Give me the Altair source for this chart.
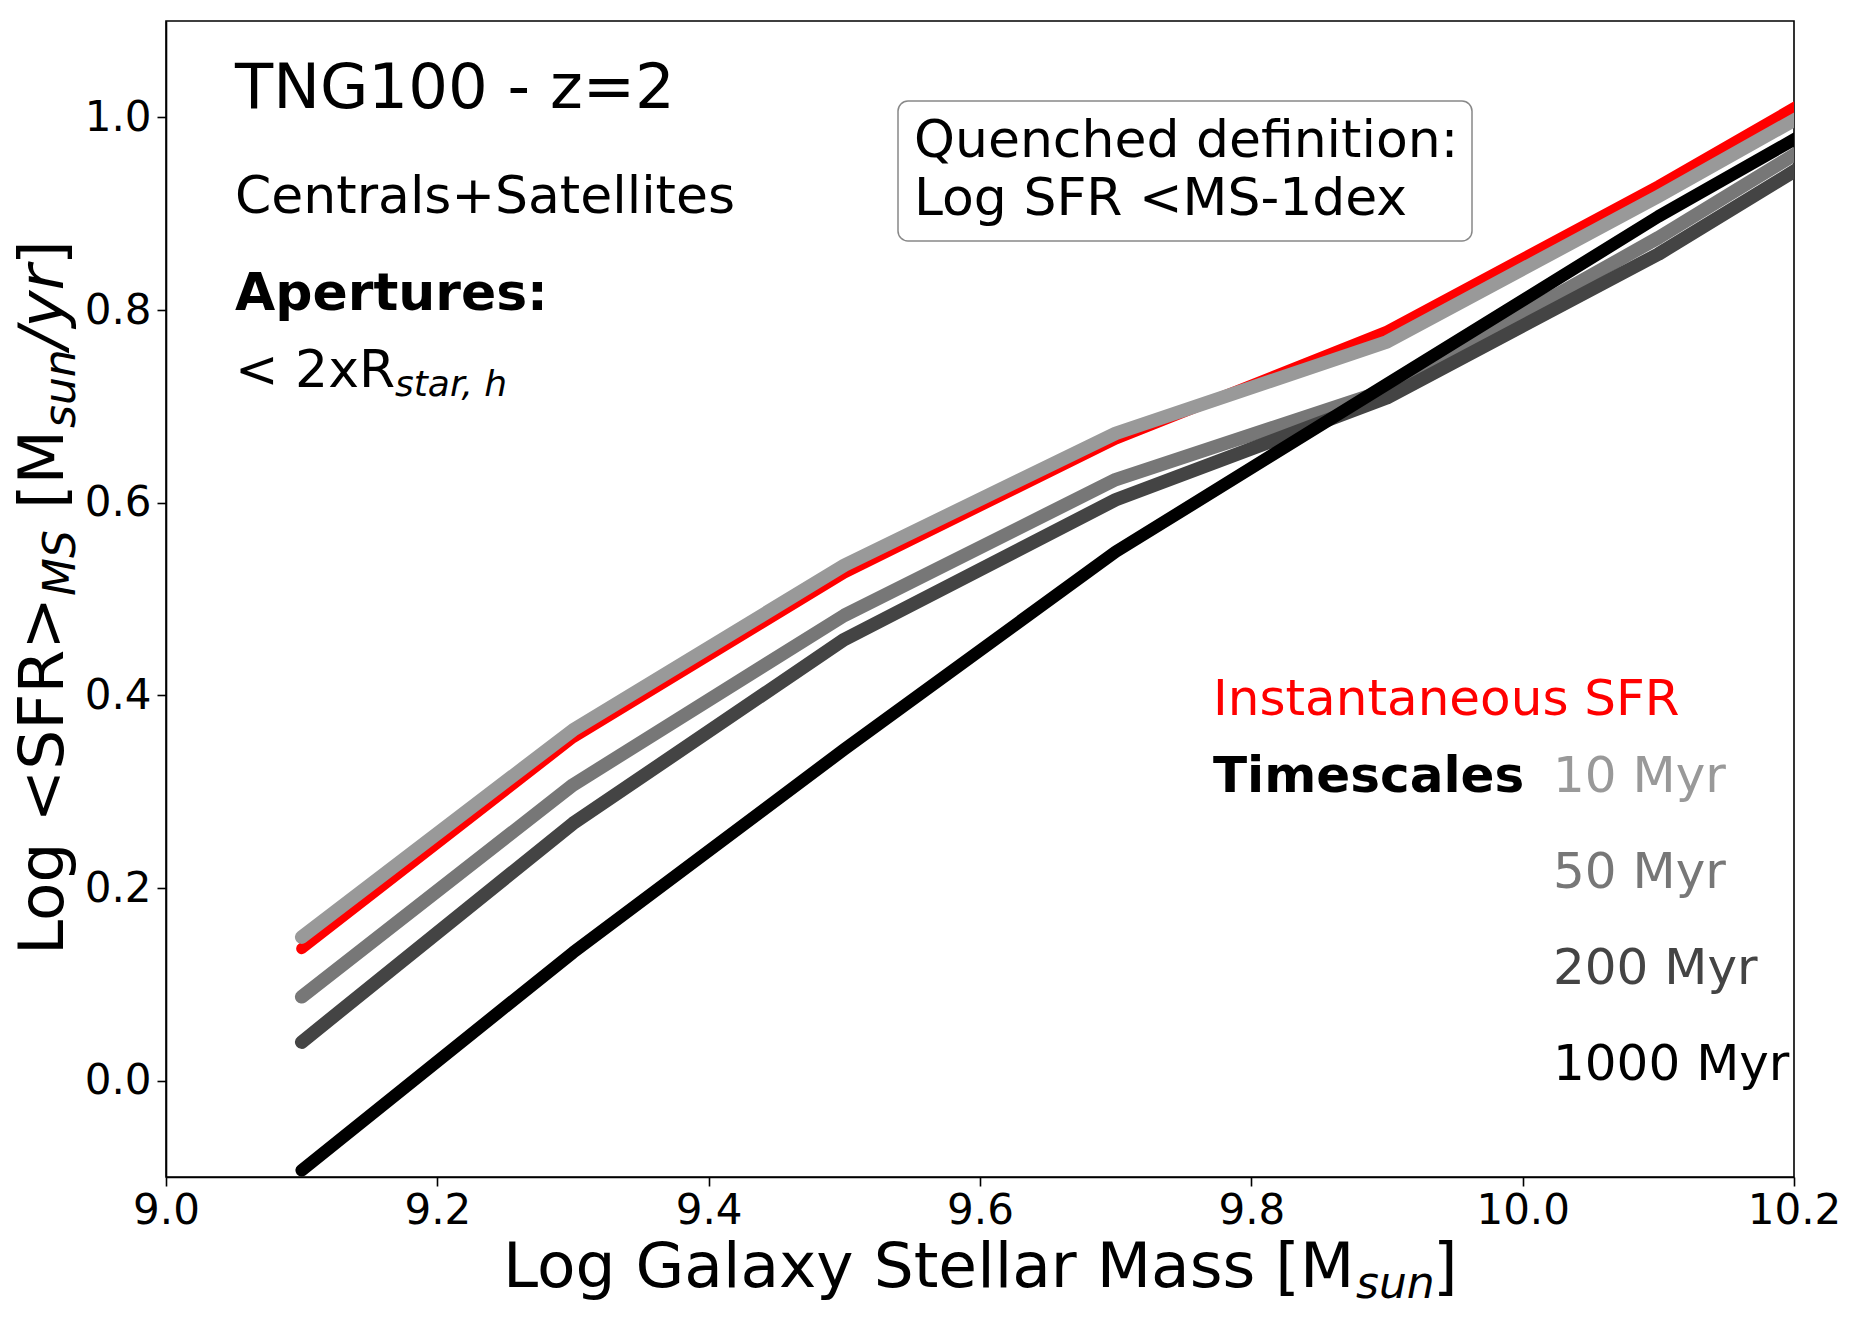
import altair as alt
import pandas as pd

# Bin centres in log stellar mass (the last bin lies past the right edge and is clipped)
mass = [9.1, 9.3, 9.5, 9.7, 9.9, 10.1, 10.3]

# Mean log SFR on the main sequence for each SFR estimator
sfr_inst = [0.137, 0.356, 0.527, 0.666, 0.778, 0.929, 1.091]
sfr_10myr = [0.149, 0.364, 0.535, 0.672, 0.767, 0.918, 1.076]
sfr_50myr = [0.087, 0.307, 0.483, 0.624, 0.717, 0.875, 1.047]
sfr_200myr = [0.040, 0.267, 0.458, 0.603, 0.709, 0.858, 1.030]
sfr_1000myr = [-0.093, 0.133, 0.344, 0.549, 0.723, 0.897, 1.057]

series_labels = ["Instantaneous SFR", "10 Myr", "50 Myr", "200 Myr", "1000 Myr"]
series_values = [sfr_inst, sfr_10myr, sfr_50myr, sfr_200myr, sfr_1000myr]
series_colors = ["#ff0000", "#999999", "#777777", "#444444", "#000000"]
series_widths = [11, 13.5, 13.5, 13.5, 12.5]

x_ticks = [9.0, 9.2, 9.4, 9.6, 9.8, 10.0, 10.2]
y_ticks = [0.0, 0.2, 0.4, 0.6, 0.8, 1.0]

W, H = 1628, 1156
FONT = "DejaVu Sans"

x_scale = alt.Scale(domain=[9.0, 10.2], nice=False, zero=False)
y_scale = alt.Scale(domain=[-0.1, 1.1], nice=False, zero=False)

axis_style = dict(
    title=None, format=".1f", grid=False, labelFontSize=42, labelFont=FONT,
    labelColor="black", tickColor="black", tickSize=9, tickWidth=1.6,
    domainColor="black", domainWidth=1.6, labelFlush=False,
    labelOverlap=False, labelBound=False,
)
x_axis = alt.Axis(values=x_ticks, labelPadding=4, **axis_style)
y_axis = alt.Axis(values=y_ticks, labelPadding=6, **axis_style)


def series_layer(label, values, color, width):
    df = pd.DataFrame({"mass": mass, "sfr": values, "series": label})
    return alt.Chart(df).mark_line(
        clip=True, color=color, strokeWidth=width,
        strokeCap="round", strokeJoin="round",
    ).encode(
        x=alt.X("mass:Q", scale=x_scale, axis=x_axis),
        y=alt.Y("sfr:Q", scale=y_scale, axis=y_axis),
    )


def note(text, x, y, size, color="black", weight="normal", style="normal",
         angle=0, align="left"):
    return alt.Chart(alt.Data(values=[{"t": text}])).mark_text(
        align=align, baseline="alphabetic", font=FONT, fontSize=size,
        fontWeight=weight, fontStyle=style, color=color, angle=angle,
    ).encode(x=alt.value(x), y=alt.value(y), text="t:N")


layers = [
    series_layer(lbl, vals, col, wid)
    for lbl, vals, col, wid in zip(series_labels, series_values, series_colors, series_widths)
]

# Header notes in the upper left
layers += [
    note("TNG100 - z=2", 69, 87, 62.5),
    note("Centrals+Satellites", 69, 192, 52),
    note("Apertures:", 69, 289, 52, weight="bold"),
    note("< 2xR", 69, 366, 52),
    note("star, h", 229, 375, 36, style="italic"),
]

# Boxed note on the quenching threshold
box = alt.Chart(alt.Data(values=[{}])).mark_rect(
    fill="white", stroke="#888888", strokeWidth=1.5, cornerRadius=10,
).encode(x=alt.value(732), x2=alt.value(1306), y=alt.value(80), y2=alt.value(220))
layers += [
    box,
    note("Quenched definition:", 748, 136, 52),
    note("Log SFR <MS-1dex", 748, 194, 52),
]

# Colour key for the SFR estimators
layers += [
    note("Instantaneous SFR", 1047, 694, 50, color=series_colors[0]),
    note("Timescales", 1047, 771, 50, weight="bold"),
    note("10 Myr", 1387, 771, 50, color=series_colors[1]),
    note("50 Myr", 1387, 867, 50, color=series_colors[2]),
    note("200 Myr", 1387, 963, 50, color=series_colors[3]),
    note("1000 Myr", 1387, 1059, 50, color=series_colors[4]),
]

# X axis title with subscript
layers += [
    note("Log Galaxy Stellar Mass [M", 337, 1266, 63),
    note("sun", 1190, 1277, 44, style="italic"),
    note("]", 1267, 1266, 63),
]

# Y axis title (rotated) with subscripts
layers += [
    note("Log <SFR>", -103, 934, 63, angle=270),
    note("MS", -91, 575, 44, style="italic", angle=270),
    note("[M", -103, 488, 63, angle=270),
    note("sun", -91, 407, 44, style="italic", angle=270),
    note("/yr", -103, 328, 63, style="italic", angle=270),
    note("]", -103, 244, 63, angle=270),
]

chart = alt.layer(*layers).properties(
    width=W,
    height=H,
    autosize=alt.AutoSizeParams(type="none"),
    padding={"left": 166, "top": 21, "right": 62, "bottom": 142},
    background="white",
).configure(
    font=FONT,
).configure_view(
    stroke="black", strokeWidth=1.6,
)

chart.save("out.html", embed_options={"renderer": "svg", "actions": False})
